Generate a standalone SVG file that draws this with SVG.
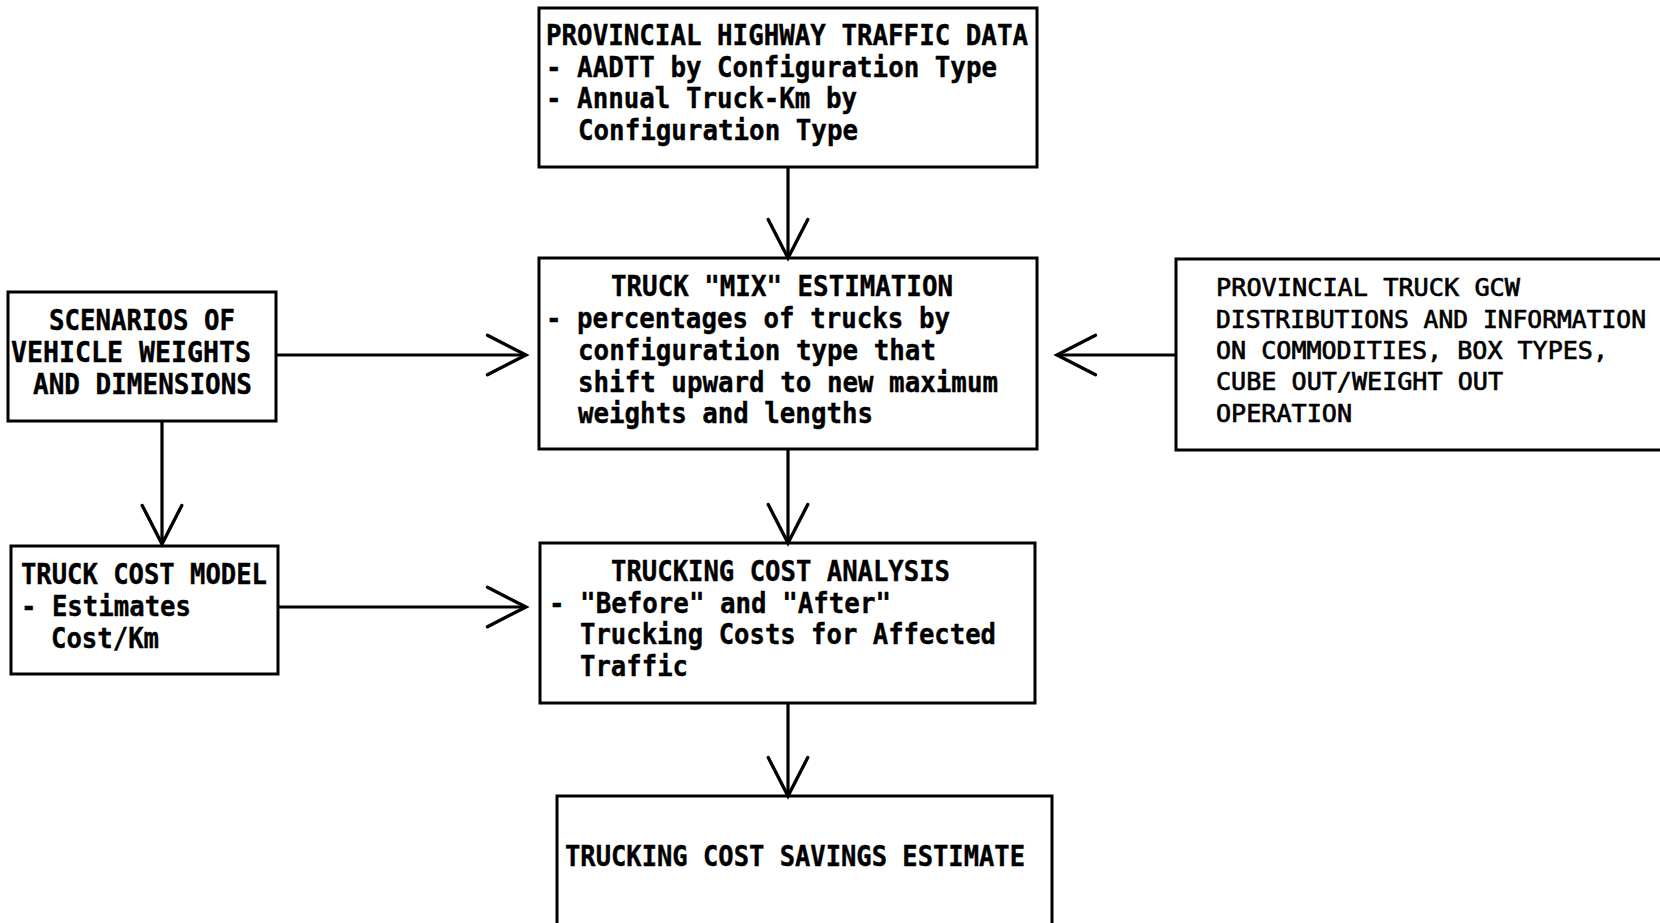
<svg xmlns="http://www.w3.org/2000/svg" width="1660" height="923" viewBox="0 0 1660 923">
  <style>
    .box { fill: none; stroke: #000; stroke-width: 3; stroke-linejoin: miter; }
    .edge { fill: none; stroke: #000; stroke-width: 3.2; }
    .t { font-family: "DejaVu Sans Mono", "Liberation Mono", monospace; font-size: 29px; font-weight: bold; fill: #000; stroke: #000; stroke-width: 0.4; }
    .tl { font-family: "DejaVu Sans Mono", "Liberation Mono", monospace; font-size: 25px; font-weight: normal; fill: #000; stroke: #000; stroke-width: 0.7; }
  </style>
  <defs>
    <marker id="vee" markerUnits="userSpaceOnUse" markerWidth="50" markerHeight="50" viewBox="-42 -24 48 48" refX="0" refY="0" orient="auto">
      <path d="M-37,-19 L0,0 L-37,19" fill="none" stroke="#000" stroke-width="3.2" stroke-linecap="round" stroke-linejoin="miter"/>
    </marker>
  </defs>
  <rect width="1660" height="923" fill="#fff"/>

  <g id="connectors">
    <line class="edge" x1="788" y1="167" x2="788" y2="258" marker-end="url(#vee)"/>
    <line class="edge" x1="788" y1="449" x2="788" y2="543" marker-end="url(#vee)"/>
    <line class="edge" x1="788" y1="703" x2="788" y2="796" marker-end="url(#vee)"/>
    <line class="edge" x1="162" y1="421" x2="162" y2="544" marker-end="url(#vee)"/>
    <line class="edge" x1="276" y1="355" x2="526" y2="355" marker-end="url(#vee)"/>
    <line class="edge" x1="278" y1="607" x2="526" y2="607" marker-end="url(#vee)"/>
    <line class="edge" x1="1176" y1="355" x2="1057" y2="355" marker-end="url(#vee)"/>
  </g>

  <g id="traffic-data">
    <rect class="box" x="539" y="8" width="498" height="159"/>
    <text class="t" x="546" y="45" textLength="482" lengthAdjust="spacingAndGlyphs">PROVINCIAL HIGHWAY TRAFFIC DATA</text>
    <text class="t" x="546" y="77" textLength="451" lengthAdjust="spacingAndGlyphs">- AADTT by Configuration Type</text>
    <text class="t" x="546" y="108" textLength="311" lengthAdjust="spacingAndGlyphs">- Annual Truck-Km by</text>
    <text class="t" x="578" y="140" textLength="280" lengthAdjust="spacingAndGlyphs">Configuration Type</text>
  </g>

  <g id="mix-estimation">
    <rect class="box" x="539" y="258" width="498" height="191"/>
    <text class="t" x="611" y="296" textLength="342" lengthAdjust="spacingAndGlyphs">TRUCK "MIX" ESTIMATION</text>
    <text class="t" x="546" y="328" textLength="404" lengthAdjust="spacingAndGlyphs">- percentages of trucks by</text>
    <text class="t" x="578" y="360" textLength="358" lengthAdjust="spacingAndGlyphs">configuration type that</text>
    <text class="t" x="578" y="392" textLength="420" lengthAdjust="spacingAndGlyphs">shift upward to new maximum</text>
    <text class="t" x="578" y="423" textLength="295" lengthAdjust="spacingAndGlyphs">weights and lengths</text>
  </g>

  <g id="scenarios">
    <rect class="box" x="8" y="292" width="268" height="129"/>
    <text class="t" x="49" y="330" textLength="186" lengthAdjust="spacingAndGlyphs">SCENARIOS OF</text>
    <text class="t" x="11" y="362" textLength="240" lengthAdjust="spacingAndGlyphs">VEHICLE WEIGHTS</text>
    <text class="t" x="33" y="394" textLength="219" lengthAdjust="spacingAndGlyphs">AND DIMENSIONS</text>
  </g>

  <g id="gcw-distributions">
    <path class="box" d="M1666,259 L1176,259 L1176,450 L1666,450"/>
    <text class="tl" x="1216" y="296" textLength="304" lengthAdjust="spacingAndGlyphs">PROVINCIAL TRUCK GCW</text>
    <text class="tl" x="1216" y="328" textLength="430" lengthAdjust="spacingAndGlyphs">DISTRIBUTIONS AND INFORMATION</text>
    <text class="tl" x="1216" y="359" textLength="392" lengthAdjust="spacingAndGlyphs">ON COMMODITIES, BOX TYPES,</text>
    <text class="tl" x="1216" y="390" textLength="287" lengthAdjust="spacingAndGlyphs">CUBE OUT/WEIGHT OUT</text>
    <text class="tl" x="1216" y="422" textLength="136" lengthAdjust="spacingAndGlyphs">OPERATION</text>
  </g>

  <g id="truck-cost-model">
    <rect class="box" x="11" y="546" width="267" height="128"/>
    <text class="t" x="21" y="584" textLength="246" lengthAdjust="spacingAndGlyphs">TRUCK COST MODEL</text>
    <text class="t" x="21" y="616" textLength="170" lengthAdjust="spacingAndGlyphs">- Estimates</text>
    <text class="t" x="51" y="648" textLength="108" lengthAdjust="spacingAndGlyphs">Cost/Km</text>
  </g>

  <g id="cost-analysis">
    <rect class="box" x="540" y="543" width="495" height="160"/>
    <text class="t" x="611" y="581" textLength="339" lengthAdjust="spacingAndGlyphs">TRUCKING COST ANALYSIS</text>
    <text class="t" x="549" y="613" textLength="342" lengthAdjust="spacingAndGlyphs">- "Before" and "After"</text>
    <text class="t" x="580" y="644" textLength="416" lengthAdjust="spacingAndGlyphs">Trucking Costs for Affected</text>
    <text class="t" x="580" y="676" textLength="108" lengthAdjust="spacingAndGlyphs">Traffic</text>
  </g>

  <g id="savings-estimate">
    <path class="box" d="M557,930 L557,796 L1052,796 L1052,930"/>
    <text class="t" x="565" y="866" textLength="460" lengthAdjust="spacingAndGlyphs">TRUCKING COST SAVINGS ESTIMATE</text>
  </g>
</svg>
